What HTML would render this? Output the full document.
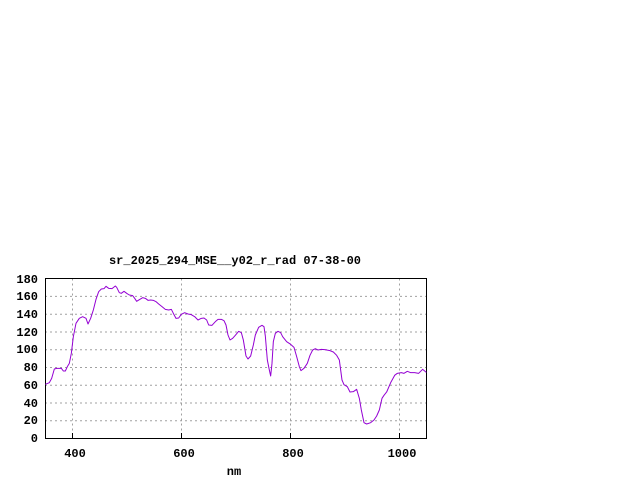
<!DOCTYPE html>
<html><head><meta charset="utf-8"><style>
html,body{margin:0;padding:0;background:#fff;}
svg{display:block;}
text{font-family:"Liberation Mono","DejaVu Sans Mono",monospace;font-size:12px;font-weight:bold;fill:#000;}
</style></head><body>
<svg width="640" height="480" viewBox="0 0 640 480" xmlns="http://www.w3.org/2000/svg">
<rect width="640" height="480" fill="#fff"/>
<g stroke="#a0a0a0" stroke-width="1" stroke-dasharray="2,3">
<line x1="45" y1="420.8" x2="426" y2="420.8"/>
<line x1="45" y1="403" x2="426" y2="403"/>
<line x1="45" y1="385.2" x2="426" y2="385.2"/>
<line x1="45" y1="367.5" x2="426" y2="367.5"/>
<line x1="45" y1="349.7" x2="426" y2="349.7"/>
<line x1="45" y1="332" x2="426" y2="332"/>
<line x1="45" y1="314.2" x2="426" y2="314.2"/>
<line x1="45" y1="296.4" x2="426" y2="296.4"/>
<line x1="72.5" y1="278.5" x2="72.5" y2="438"/>
<line x1="181.5" y1="278.5" x2="181.5" y2="438"/>
<line x1="290.5" y1="278.5" x2="290.5" y2="438"/>
<line x1="399.5" y1="278.5" x2="399.5" y2="438"/>
</g>
<rect x="45.5" y="278.5" width="381" height="160" fill="none" stroke="#000" stroke-width="1"/>
<g stroke="#000">
<line x1="72.5" y1="438" x2="72.5" y2="433"/><line x1="181.5" y1="438" x2="181.5" y2="433"/>
<line x1="290.5" y1="438" x2="290.5" y2="433"/><line x1="399.5" y1="438" x2="399.5" y2="433"/>
</g>
<g transform="translate(0,250) scale(0.33333)">
<polyline fill="none" stroke="#9400d3" stroke-width="3" stroke-linejoin="round" points="136,403 148,398 155,385 163,357 170,355 184,355 190,363 196,363 202,350 208,340 214,310 220,260 228,220 238,205 248,200 258,205 264,222 272,205 280,180 288,148 296,125 304,117 312,116 318,109 326,115 336,116 346,108 350,112 358,128 364,130 372,124 380,130 388,135 398,137 404,145 410,154 418,149 428,143 436,145 444,151 452,150 460,151 468,155 476,162 486,170 496,178 506,180 514,178 520,190 528,205 536,204 544,193 554,188 564,192 574,194 584,200 594,210 604,205 612,204 620,210 626,225 636,226 646,215 654,208 664,208 672,212 678,225 684,255 690,270 698,265 706,256 716,244 724,248 730,270 738,318 744,327 752,318 760,285 766,255 776,232 786,226 792,230 796,258 802,330 808,360 812,378 816,340 820,275 826,250 834,244 842,248 848,260 860,275 872,283 882,292 890,320 898,350 903,362 912,355 922,340 930,316 938,300 946,296 954,300 964,298 974,299 990,302 1000,306 1010,316 1018,330 1022,360 1026,390 1032,404 1042,410 1050,426 1060,425 1070,418 1078,445 1084,480 1092,518 1100,522 1112,518 1122,510 1130,498 1138,480 1146,445 1152,436 1160,426 1172,398 1184,376 1192,370 1204,368 1212,370 1222,364 1232,368 1244,368 1256,370 1268,358 1279,367"/>
</g>
<g text-anchor="end">
<text x="38" y="442">0</text>
<text x="38" y="424">20</text>
<text x="38" y="407">40</text>
<text x="38" y="389">60</text>
<text x="38" y="371">80</text>
<text x="38" y="353">100</text>
<text x="38" y="336">120</text>
<text x="38" y="318">140</text>
<text x="38" y="300">160</text>
<text x="38" y="283">180</text>
</g>
<g text-anchor="middle">
<text x="75" y="457">400</text>
<text x="184" y="457">600</text>
<text x="293" y="457">800</text>
<text x="402" y="457">1000</text>
<text x="234" y="475">nm</text>
<text x="235" y="264">sr_2025_294_MSE__y02_r_rad 07-38-00</text>
</g>
</svg>
</body></html>
